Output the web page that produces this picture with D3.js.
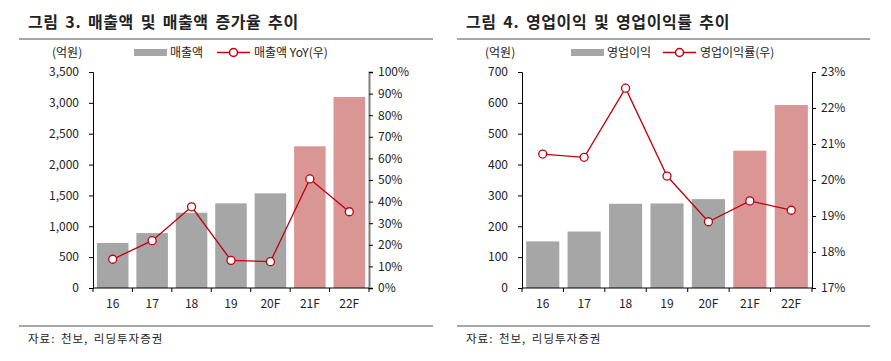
<!DOCTYPE html>
<html>
<head>
<meta charset="utf-8">
<script src="https://cdn.jsdelivr.net/npm/d3@7"></script>
<style>
  body { margin: 0; background: #fff; }
  svg text { font-family: "Noto Sans CJK KR", "Noto Sans", sans-serif; fill: #222; }
</style>
</head>
<body>
<svg id="chart" width="891" height="361"></svg>
<script>
const years = ["16", "17", "18", "19", "20F", "21F", "22F"]
const forecastFrom = 5 // 21F, 22F are drawn in red

// 그림 3
const sales = [730, 890, 1220, 1372, 1534, 2296, 3095]
const salesYoY = [13.3, 21.9, 37.6, 12.8, 12.2, 50.5, 35.3]
const salesTicks = [0, 500, 1000, 1500, 2000, 2500, 3000, 3500]
const yoyTicks = [0, 10, 20, 30, 40, 50, 60, 70, 80, 90, 100]

// 그림 4
const opProfit = [151, 183, 273, 274, 288, 445, 593]
const opMargin = [20.72, 20.63, 22.55, 20.11, 18.84, 19.42, 19.16]
const opTicks = [0, 100, 200, 300, 400, 500, 600, 700]
const marginTicks = [17, 18, 19, 20, 21, 22, 23]

const colors = {
    bar: "#a6a6a6",
    barF: "#d99694",
    line: "#c0000b",
    rule: "#a6a6a6"
}

const svg = d3.select("#chart")

const drawPanel = (cfg) => {
    const g = svg.append("g")

    // title + rules
    g.append("text").attr("x", cfg.titleX).attr("y", 28)
        .attr("font-size", 16).attr("font-weight", "bold")
        .attr("letter-spacing", 0.6).attr("word-spacing", 2.5).text(cfg.title)
    g.append("line").attr("x1", cfg.ruleX1).attr("x2", cfg.ruleX2).attr("y1", 39).attr("y2", 39)
        .attr("stroke", colors.rule).attr("stroke-width", 2)
    g.append("line").attr("x1", cfg.ruleX1).attr("x2", cfg.ruleX2).attr("y1", 326).attr("y2", 326)
        .attr("stroke", colors.rule).attr("stroke-width", 2)
    g.append("text").attr("x", cfg.titleX).attr("y", 343).attr("font-size", 11.5)
        .attr("letter-spacing", 1).attr("word-spacing", 2)
        .attr("fill", "#333").text("자료: 천보, 리딩투자증권")

    const x = d3.scaleBand().domain(years).range([cfg.left, cfg.right]).paddingInner(0.2).paddingOuter(0.1)
    const yL = d3.scaleLinear().domain(cfg.leftDomain).range([288, 72])
    const yR = d3.scaleLinear().domain(cfg.rightDomain).range([288, 72])

    // bars
    g.append("g").selectAll("rect").data(cfg.bars).enter().append("rect")
        .attr("x", (d, i) => x(years[i]))
        .attr("width", x.bandwidth())
        .attr("y", d => yL(d))
        .attr("height", d => yL(0) - yL(d))
        .attr("fill", (d, i) => i >= forecastFrom ? colors.barF : colors.bar)

    // left axis
    const axL = g.append("g").attr("transform", `translate(${cfg.left},0)`)
        .call(d3.axisLeft(yL).tickValues(cfg.leftTicks).tickSize(4).tickPadding(10).tickFormat(d3.format(",")))
    axL.select(".domain").attr("stroke", "#000")
    axL.selectAll("text").attr("font-size", 12).attr("font-family", null)

    // right axis
    const axR = g.append("g").attr("transform", `translate(${cfg.right},0)`)
        .call(d3.axisRight(yR).tickValues(cfg.rightTicks).tickSize(4).tickPadding(5).tickFormat(d => d + "%"))
    axR.select(".domain").attr("stroke", cfg.rightAxisColor).attr("stroke-width", cfg.rightAxisWidth)
    axR.selectAll("text").attr("font-size", 12).attr("font-family", null)

    // x axis, ticks between categories
    const axX = g.append("g").attr("transform", "translate(0,288)")
    axX.append("line").attr("x1", cfg.left).attr("x2", cfg.right).attr("stroke", "#000")
    axX.selectAll("line.tk").data(d3.range(years.length + 1)).enter().append("line")
        .attr("class", "tk")
        .attr("x1", i => cfg.left + i * (cfg.right - cfg.left) / years.length)
        .attr("x2", i => cfg.left + i * (cfg.right - cfg.left) / years.length)
        .attr("y1", 0).attr("y2", 4).attr("stroke", "#000")
    axX.selectAll("text").data(years).enter().append("text")
        .attr("x", d => x(d) + x.bandwidth() / 2).attr("y", 20)
        .attr("text-anchor", "middle").attr("font-size", 12).text(d => d)

    // line + markers
    const line = d3.line().x((d, i) => x(years[i]) + x.bandwidth() / 2).y(d => yR(d))
    g.append("path").datum(cfg.line).attr("d", line)
        .attr("fill", "none").attr("stroke", colors.line).attr("stroke-width", 1.3)
    g.append("g").selectAll("circle").data(cfg.line).enter().append("circle")
        .attr("cx", (d, i) => x(years[i]) + x.bandwidth() / 2)
        .attr("cy", d => yR(d)).attr("r", 4)
        .attr("fill", "#fff").attr("stroke", colors.line).attr("stroke-width", 1.3)

    // unit + legend
    g.append("text").attr("x", cfg.unitX).attr("y", 57).attr("font-size", 12).text("(억원)")
    g.append("rect").attr("x", cfg.legX).attr("y", 49).attr("width", 33).attr("height", 7).attr("fill", colors.bar)
    g.append("text").attr("x", cfg.legX + 36).attr("y", 57).attr("font-size", 12).text(cfg.barName)
    const lx = cfg.legX2
    g.append("line").attr("x1", lx).attr("x2", lx + 33).attr("y1", 52.5).attr("y2", 52.5)
        .attr("stroke", colors.line).attr("stroke-width", 1.5)
    g.append("circle").attr("cx", lx + 16.5).attr("cy", 52.5).attr("r", 4)
        .attr("fill", "#fff").attr("stroke", colors.line).attr("stroke-width", 1.5)
    g.append("text").attr("x", lx + 37).attr("y", 57).attr("font-size", 12).text(cfg.lineName)
}

drawPanel({
    title: "그림 3. 매출액 및 매출액 증가율 추이",
    titleX: 28, ruleX1: 19, ruleX2: 433,
    left: 93, right: 369,
    bars: sales, line: salesYoY,
    leftDomain: [0, 3500], rightDomain: [0, 100],
    leftTicks: salesTicks, rightTicks: yoyTicks,
    rightAxisColor: "#808080", rightAxisWidth: 2,
    unitX: 52, legX: 134, legX2: 217,
    barName: "매출액", lineName: "매출액 YoY(우)"
})

drawPanel({
    title: "그림 4. 영업이익 및 영업이익률 추이",
    titleX: 466, ruleX1: 457, ruleX2: 870,
    left: 522, right: 812,
    bars: opProfit, line: opMargin,
    leftDomain: [0, 700], rightDomain: [17, 23],
    leftTicks: opTicks, rightTicks: marginTicks,
    rightAxisColor: "#000", rightAxisWidth: 1,
    unitX: 485, legX: 571, legX2: 663,
    barName: "영업이익", lineName: "영업이익률(우)"
})
</script>
</body>
</html>
